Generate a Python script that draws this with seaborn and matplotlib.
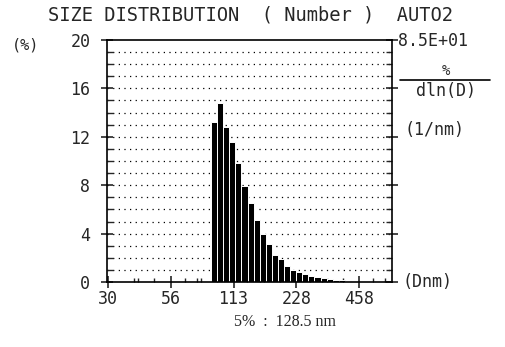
import numpy as np
import pandas as pd
import matplotlib
matplotlib.use("Agg")
import matplotlib.pyplot as plt
import seaborn as sns
from matplotlib.ticker import FixedLocator, NullFormatter

# ---- data ----
diameters = [96.9, 103.6, 110.8, 118.5, 126.7, 135.5, 144.9, 155.0, 165.7, 177.2,
             189.5, 202.7, 216.7, 231.8, 247.9, 265.1, 283.5, 303.1, 324.2, 346.7,
             370.7, 396.5, 424.0, 453.4]
percent = [13.2, 14.8, 12.8, 11.6, 9.8, 7.9, 6.5, 5.1, 4.0, 3.1,
           2.2, 1.9, 1.3, 1.0, 0.8, 0.65, 0.5, 0.38, 0.3, 0.25,
           0.2, 0.15, 0.12, 0.1]
xtick_pos = [30, 60, 120, 240, 480]
xtick_labels = ["30", "56", "113", "228", "458"]
ytick_vals = [0, 4, 8, 12, 16, 20]
ytick_labels = ["0", "4", "8", "12", "16", "20"]
title = "SIZE DISTRIBUTION  ( Number )  AUTO2"
scale_text = "8.5E+01"
footer = "5%  :  128.5 nm"

df = pd.DataFrame({"d": diameters, "p": percent})

sns.set_style("white")
plt.rcParams["font.family"] = ["DejaVu Sans Mono"]

W, H = 505, 347
fig = plt.figure(figsize=(W / 100, H / 100), dpi=100)
L, R, T, B = 107, 392, 40, 282
ax = fig.add_axes([L / W, 1 - B / H, (R - L) / W, (B - T) / H])

logd = np.log10(df["d"].to_numpy())
h = (logd[-1] - logd[0]) / (len(logd) - 1)
sns.histplot(data=df, x="d", weights="p", bins=len(logd),
             binrange=(logd[0] - h / 2, logd[-1] + h / 2),
             log_scale=True, color="black", alpha=1, edgecolor="white",
             linewidth=0.7, ax=ax)

ax.set_xlim(29.7, 690)
ax.set_ylim(0, 20)
ax.set_xlabel("")
ax.set_ylabel("")

# grid: dotted horizontal lines at every unit
for yv in range(1, 20):
    ax.axhline(yv, color="black", lw=0.9, ls=(0, (1, 3.5)), zorder=0)
ax.set_axisbelow(True)

for s in ax.spines.values():
    s.set_color("black")
    s.set_linewidth(1.2)
ax.spines["top"].set_linestyle((0, (2, 1)))

ax.xaxis.set_major_locator(FixedLocator(xtick_pos))
ax.set_xticklabels(xtick_labels)
ax.xaxis.set_minor_locator(FixedLocator([42, 84, 168, 336, 40, 50, 70, 80, 100, 140, 160, 200, 280, 320, 400, 560, 640]))
ax.xaxis.set_minor_formatter(NullFormatter())
ax.tick_params(axis="x", which="major", direction="inout", length=8, width=1.2,
               labelsize=12, pad=2, bottom=True)
ax.tick_params(axis="x", which="minor", direction="in", length=3, width=1, bottom=True)

ax.set_yticks(ytick_vals)
ax.set_yticklabels(ytick_labels)
ax.yaxis.set_minor_locator(FixedLocator(range(0, 21)))
ax.tick_params(axis="y", which="major", direction="inout", length=8, width=1.2,
               labelsize=12, pad=8, left=True, right=True)
ax.tick_params(axis="y", which="minor", direction="in", length=4, width=1,
               left=True, right=True)

def ftext(x, y, s, **kw):
    fig.text(x / W, 1 - y / H, s, **kw)

ftext(250, 15, title, ha="center", va="center", fontsize=13.5)
ftext(12, 45, "(%)", ha="left", va="center", fontsize=11)
ftext(398, 41, scale_text, ha="left", va="center", fontsize=12)
ftext(446, 71, "%", ha="center", va="center", fontsize=10)
fig.add_artist(plt.Line2D([400 / W, 490 / W], [1 - 80 / H, 1 - 80 / H],
                          color="black", lw=1.2))
ftext(446, 91, "dln(D)", ha="center", va="center", fontsize=12)
ftext(405, 130, "(1/nm)", ha="left", va="center", fontsize=12)
ftext(402, 282, "(Dnm)", ha="left", va="center", fontsize=12)
ftext(285, 322, footer, ha="center", va="center", fontsize=11.5,
      family=["Liberation Serif"])

fig.savefig("out.png", dpi=100)
